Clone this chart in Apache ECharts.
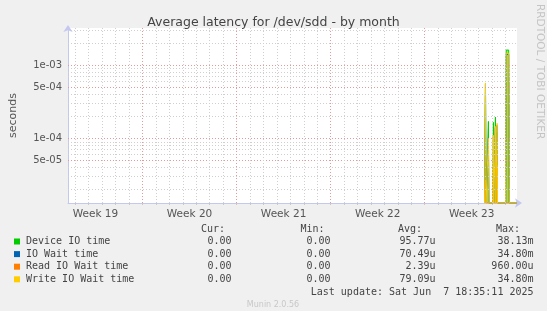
<!DOCTYPE html>
<html>
<head>
<meta charset="utf-8">
<script src="https://cdn.jsdelivr.net/npm/echarts@6/dist/echarts.min.js"></script>
<style>
    html, body { margin: 0; padding: 0; background: #f0f0f0; }
    #chart { width: 547px; height: 311px; }
</style>
</head>
<body>
<div id="chart"></div>
<script>
// samples around the few hours where the disk had traffic (rest of the month is unknown)
var times = [
    '2025-06-06 11:00', '2025-06-06 11:30', '2025-06-06 12:30', '2025-06-06 13:30',
    '2025-06-06 17:00', '2025-06-06 17:45', '2025-06-06 18:30',
    '2025-06-07 01:45', '2025-06-07 02:40', '2025-06-07 03:30',
    '2025-06-07 05:30', '2025-06-07 06:15', '2025-06-07 07:00',
    '2025-06-07 08:30', '2025-06-07 09:15', '2025-06-07 10:00',
    '2025-06-08 00:30', '2025-06-08 01:30', '2025-06-08 06:00', '2025-06-08 07:00',
    '2025-06-08 20:45'
]
var deviceIO = [0, 0, 5.5e-4, 0, 0, 1.7e-4, 0, 0, 1.65e-4, 0, 0, 1.95e-4, 0, 0, 1.2e-4, 0, 0, 1.6e-3, 1.6e-3, 0, 0]
var ioWait = [0, 0, 5.6e-4, 0, 0, 1.0e-4, 0, 0, 1.1e-4, 0, 0, 1.4e-4, 0, 0, 1.5e-4, 0, 0, 1.4e-3, 1.4e-3, 0, 0]
var readWait = [0, 0, 2.7e-5, 0, 0, 0, 0, 0, 4.2e-5, 0, 0, 0, 0, 0, 4.3e-5, 0, 0, 0, 0, 0, 0]
var writeWait = [0, 0, 5.7e-4, 0, 0, 1.0e-4, 0, 0, 1.1e-4, 0, 0, 1.45e-4, 0, 0, 1.6e-4, 0, 0, 1.45e-3, 1.45e-3, 0, 0]

var weekLabels = ['Week 19', 'Week 20', 'Week 21', 'Week 22', 'Week 23']
var weekMiddles = ['2025-05-08 12:00', '2025-05-15 12:00', '2025-05-22 12:00', '2025-05-29 12:00', '2025-06-05 12:00']
var yTickValues = [1e-3, 5e-4, 1e-4, 5e-5]
var yTickLabels = ['1e-03', '5e-04', '1e-04', '5e-05']

var names = ['Device IO time', 'IO Wait time', 'Read IO Wait time', 'Write IO Wait time']
var colors = ['#00cc00', '#0066b3', '#ff8000', '#ffcc00']
var curVals = ['0.00', '0.00', '0.00', '0.00']
var minVals = ['0.00', '0.00', '0.00', '0.00']
var avgVals = ['95.77u', '70.49u', '2.39u', '79.09u']
var maxVals = ['38.13m', '34.80m', '960.00u', '34.80m']

var xStart = '2025-05-06 11:00'
var xEnd = '2025-06-08 20:48'
var yMin = 1.31e-5
var yMax = 3.2e-3

function ts(s) {
    return new Date(s.replace(' ', 'T')).getTime()
}

var minorColor = '#cfcfcf'
var majorColor = '#e49a9a'

// grid lines as mark lines; horizontal ones go on a helper axis in log10 units
var gridLines = []
var dayTicks = []
var e, m
for (e = -5; e <= -3; e++) {
    for (m = 1; m <= 9; m++) {
        var v = m * Math.pow(10, e)
        if (v < yMin || v > yMax) continue
        var major = (m === 1 || m === 5)
        gridLines.push({ yAxis: Math.log10(v), lineStyle: { color: major ? majorColor : minorColor, type: [1, 2], width: 1 }})
    }
}
var day = ts('2025-05-07 00:00')
while (day < ts(xEnd)) {
    var isMonday = new Date(day).getDay() === 1
    gridLines.push({ xAxis: day, lineStyle: { color: isMonday ? majorColor : minorColor, type: [1, 2], width: 1 }})
    dayTicks.push(day)
    day += 86400000
}

var seriesData = [deviceIO, ioWait, readWait, writeWait]
var series = [{
    name: 'grid',
    type: 'line',
    yAxisIndex: 1,
    z: 1,
    silent: true,
    symbol: 'none',
    lineStyle: { opacity: 0 },
    data: [[ts(xStart), Math.log10(yMax)]],
    markLine: {
        silent: true,
        symbol: ['none', 'none'],
        label: { show: false },
        animation: false,
        data: gridLines
    }
}]
seriesData.forEach(function(arr, i) {
    series.push({
        name: names[i],
        type: 'line',
        z: 3,
        symbol: 'none',
        clip: true,
        lineStyle: { width: 1, color: colors[i] },
        areaStyle: { color: colors[i], opacity: (i === 0 || i === 3) ? 0.45 : 0.15, origin: 'start' },
        data: times.map(function(t, k) {
            return [ts(t), arr[k] > 0 ? arr[k] : yMin]
        })
    })
})

var mono = 'DejaVu Sans Mono'
var graphics = [
    { type: 'text', x: 545, y: 4, rotation: -Math.PI / 2, style: { text: 'RRDTOOL / TOBI OETIKER', fill: '#c4c4c4', font: '10.5px DejaVu Sans' }},
    { type: 'text', x: 273, y: 304.5, style: { text: 'Munin 2.0.56', fill: '#c8c8c8', font: '8px DejaVu Sans', textAlign: 'center', textVerticalAlign: 'middle' }}
]
var headX = [225, 324.5, 422, 520]
var headT = ['Cur:', 'Min:', 'Avg:', 'Max:']
headX.forEach(function(x, i) {
    graphics.push({ type: 'text', x: x, y: 229.5, style: { text: headT[i], fill: '#444', font: '10px ' + mono, textAlign: 'right', textVerticalAlign: 'middle' }})
})
var colX = [231.5, 330.5, 435.5, 533.5]
names.forEach(function(n, i) {
    var y = 241.5 + i * 12.6
    graphics.push({ type: 'rect', shape: { x: 14, y: y - 3, width: 6, height: 6 }, style: { fill: colors[i] }})
    graphics.push({ type: 'text', x: 26, y: y, style: { text: n, fill: '#444', font: '10px ' + mono, textVerticalAlign: 'middle' }})
    var vals = [curVals[i], minVals[i], avgVals[i], maxVals[i]]
    colX.forEach(function(x, j) {
        graphics.push({ type: 'text', x: x, y: y, style: { text: vals[j], fill: '#444', font: '10px ' + mono, textAlign: 'right', textVerticalAlign: 'middle' }})
    })
})
graphics.push({ type: 'text', x: 533.5, y: 292, style: { text: 'Last update: Sat Jun  7 18:35:11 2025', fill: '#444', font: '10px ' + mono, textAlign: 'right', textVerticalAlign: 'middle' }})

var axisColor = '#c4c8f0'
var weekTs = weekMiddles.map(ts)

var option = {
    backgroundColor: '#f0f0f0',
    animation: false,
    title: {
        text: 'Average latency for /dev/sdd - by month',
        left: 'center',
        top: 11,
        textStyle: { fontSize: 12.5, fontWeight: 'normal', color: '#444', fontFamily: 'DejaVu Sans' }
    },
    grid: {
        left: 66, right: 30, top: 28, bottom: 108,
        show: true, backgroundColor: '#ffffff', borderWidth: 0
    },
    xAxis: [{
        type: 'time',
        min: ts(xStart),
        max: ts(xEnd),
        splitLine: { show: false },
        axisLine: { show: true, lineStyle: { color: axisColor }, symbol: ['none', 'arrow'], symbolSize: [7, 7], symbolOffset: [0, 5] },
        axisTick: { show: false },
        axisLabel: { show: false }
    }, {
        // same time span as a plain number axis, only to place the week labels mid-week
        type: 'value',
        position: 'bottom',
        min: ts(xStart),
        max: ts(xEnd),
        splitLine: { show: false },
        axisLine: { show: false },
        axisTick: { show: true, customValues: dayTicks, length: 2, lineStyle: { color: '#c8c8c8' }},
        axisLabel: {
            customValues: weekTs,
            margin: 6,
            color: '#555',
            fontSize: 10.5,
            fontFamily: 'DejaVu Sans',
            hideOverlap: false,
            formatter: function(v) {
                var k = weekTs.indexOf(v)
                return k >= 0 ? weekLabels[k] : ''
            }
        }
    }],
    yAxis: [{
        type: 'log',
        logBase: 10,
        min: yMin,
        max: yMax,
        name: 'seconds',
        nameLocation: 'middle',
        nameGap: 49,
        nameTextStyle: { color: '#555', fontSize: 11, fontFamily: 'DejaVu Sans' },
        splitLine: { show: false },
        axisLine: { show: true, lineStyle: { color: axisColor }, symbol: ['none', 'arrow'], symbolSize: [7, 7], symbolOffset: [0, 3] },
        axisTick: { show: false },
        axisLabel: {
            customValues: yTickValues,
            margin: 6,
            color: '#555',
            fontSize: 10,
            fontFamily: 'DejaVu Sans',
            formatter: function(v) {
                for (var k = 0; k < yTickValues.length; k++) {
                    if (Math.abs(v - yTickValues[k]) / yTickValues[k] < 1e-6) return yTickLabels[k]
                }
                return ''
            }
        }
    }, {
        // same range in log10 units, carries the horizontal grid lines
        type: 'value',
        position: 'left',
        min: Math.log10(yMin),
        max: Math.log10(yMax),
        show: false
    }],
    graphic: graphics,
    series: series
}

var myChart = echarts.init(document.getElementById('chart'))
myChart.setOption(option)
</script>
</body>
</html>
